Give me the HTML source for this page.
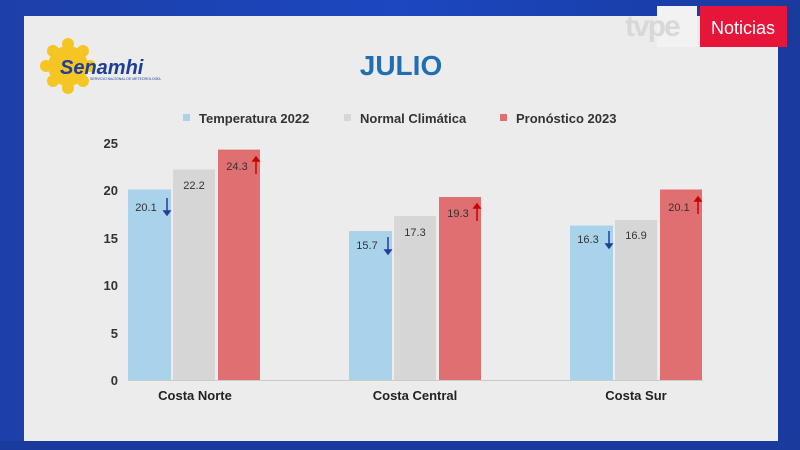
<!DOCTYPE html>
<html><head><meta charset="utf-8"><style>
body{margin:0;width:800px;height:450px;overflow:hidden;background:linear-gradient(90deg,#1d3fa8,#1b47c0 50%,#1a3a9e);font-family:"Liberation Sans",sans-serif}
</style></head><body>
<svg width="800" height="450" style="position:absolute;left:0;top:0">
<rect x="24" y="16" width="754" height="425" fill="#ebeceb"/>
<rect x="0" y="441" width="800" height="9" fill="#1a3a9e"/>
<!-- logo -->
<g transform="translate(68,66)">
<circle r="20" fill="#f5c623"/>
<g fill="#f5c623">
<circle cx="0" cy="-22" r="6"/><circle cx="0" cy="22" r="6"/><circle cx="-22" cy="0" r="6"/><circle cx="22" cy="0" r="6"/>
<circle cx="15" cy="15" r="6"/><circle cx="-15" cy="15" r="6"/><circle cx="15" cy="-15" r="6"/><circle cx="-15" cy="-15" r="6"/>
</g></g>
<text x="60" y="74" font-size="20" font-weight="bold" font-style="italic" fill="#1e3e9a">Senamhi</text>
<text x="90" y="80" font-size="3.5" fill="#1e3e9a">SERVICIO NACIONAL DE METEOROLOGÍA</text>
<text x="401" y="75" font-size="28" font-weight="bold" fill="#1f6fb5" text-anchor="middle">JULIO</text>
<!-- tvpe -->
<rect x="657" y="6" width="40" height="41" fill="#f2f2f2"/>
<text x="625" y="36" font-size="30" font-weight="bold" fill="#d8d8d8" letter-spacing="-2">tvpe</text>
<rect x="700" y="6" width="87" height="41" fill="#e5163a"/>
<text x="743" y="34" font-size="18" fill="#fff" text-anchor="middle">Noticias</text>
<!-- legend -->
<g font-size="13" font-weight="bold" fill="#333">
<rect x="183" y="114" width="7" height="7" fill="#a9d3ea"/><text x="199" y="123">Temperatura 2022</text>
<rect x="344" y="114" width="7" height="7" fill="#d6d6d6"/><text x="360" y="123">Normal Climática</text>
<rect x="500" y="114" width="7" height="7" fill="#e06f71"/><text x="516" y="123">Pronóstico 2023</text>
</g>
<!-- axis -->
<g font-size="13" font-weight="bold" fill="#333" text-anchor="end">
<text x="118" y="148">25</text><text x="118" y="195">20</text><text x="118" y="243">15</text>
<text x="118" y="290">10</text><text x="118" y="338">5</text><text x="118" y="385">0</text>
</g>
<line x1="128" y1="380.5" x2="703" y2="380.5" stroke="#ccc"/>
<g id="bars" font-size="11" fill="#333" text-anchor="middle">
<rect x="128" y="189.5" width="43" height="190.5" fill="#a9d3ea"/>
<rect x="173" y="169.5" width="42" height="210.5" fill="#d6d6d6"/>
<rect x="218" y="149.6" width="42" height="230.4" fill="#e06f71"/>
<text x="146" y="211">20.1</text><text x="194" y="189">22.2</text><text x="237" y="170">24.3</text>
<rect x="349" y="231" width="43" height="149" fill="#a9d3ea"/>
<rect x="394" y="216" width="42" height="164" fill="#d6d6d6"/>
<rect x="439" y="197" width="42" height="183" fill="#e06f71"/>
<text x="367" y="249">15.7</text><text x="415" y="236">17.3</text><text x="458" y="217">19.3</text>
<rect x="570" y="225.5" width="43" height="154.5" fill="#a9d3ea"/>
<rect x="615" y="220" width="42" height="160" fill="#d6d6d6"/>
<rect x="660" y="189.5" width="42" height="190.5" fill="#e06f71"/>
<text x="588" y="243">16.3</text><text x="636" y="239">16.9</text><text x="679" y="211">20.1</text>
</g>
<g stroke-width="1.5">
<g stroke="#1e3e9a" fill="#1e3e9a">
<line x1="167" y1="198" x2="167" y2="213"/><path d="M164 211l3 4 3-4z"/>
<line x1="388" y1="237" x2="388" y2="252"/><path d="M385 250l3 4 3-4z"/>
<line x1="609" y1="231" x2="609" y2="246"/><path d="M606 244l3 4 3-4z"/>
</g>
<g stroke="#c00" fill="#c00">
<line x1="256" y1="160" x2="256" y2="174"/><path d="M253 161l3-4 3 4z"/>
<line x1="477" y1="207" x2="477" y2="221"/><path d="M474 208l3-4 3 4z"/>
<line x1="698" y1="200" x2="698" y2="214"/><path d="M695 201l3-4 3 4z"/>
</g></g>
<g font-size="13" font-weight="bold" fill="#222" text-anchor="middle">
<text x="195" y="400">Costa Norte</text><text x="415" y="400">Costa Central</text><text x="636" y="400">Costa Sur</text>
</g>
</svg>
</body></html>
